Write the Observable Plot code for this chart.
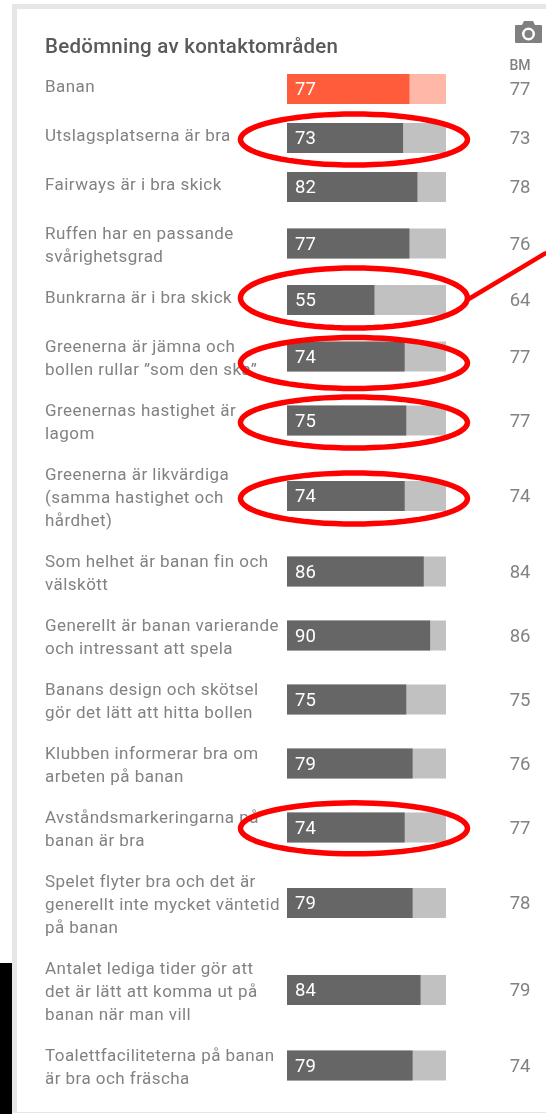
<!DOCTYPE html>
<html lang="sv">
<head>
<meta charset="utf-8">
<script src="https://cdn.jsdelivr.net/npm/d3@7"></script>
<script src="https://cdn.jsdelivr.net/npm/@observablehq/plot@0.6"></script>
<style>
  html, body { margin: 0; padding: 0; background: #fff; }
  body { width: 546px; height: 1114px; position: relative; overflow: hidden; }
  #frame { position: absolute; left: 12px; top: 4px; right: 0; bottom: 1px; border: solid #e6e6e6; border-width: 5px 0 1px 5px; }
  #corner { position: absolute; left: 0; top: 963px; width: 12px; bottom: 0; background: #000; }
  #camera { position: absolute; left: 515px; top: 21px; }
  #chart { position: absolute; left: 0; top: 0; }
  #chart svg text { filter: blur(0.3px); }
  .rowlabel text { letter-spacing: 0.45px; }
  .charttitle text { letter-spacing: 0.26px; }
</style>
</head>
<body>
<div id="frame"></div>
<div id="corner"></div>
<svg id="camera" width="27" height="22" viewBox="0 0 27 22">
  <path fill="#808080" fill-rule="evenodd" d="M1 4h6l2-4h9l2 4h6a1 1 0 0 1 1 1v16a1 1 0 0 1-1 1H1a1 1 0 0 1-1-1V5a1 1 0 0 1 1-1zM13.5 6.5a6.5 6.5 0 1 0 0 13a6.5 6.5 0 0 0 0-13zM13.5 9a4 4 0 1 1 0 8a4 4 0 0 1 0-8z"/>
</svg>
<div id="chart"></div>
<script>
const title = "Bedömning av kontaktområden";
const bmHeader = "BM";
const labels = [
  "Banan",
  "Utslagsplatserna är bra",
  "Fairways är i bra skick",
  "Ruffen har en passande\nsvårighetsgrad",
  "Bunkrarna är i bra skick",
  "Greenerna är jämna och\nbollen rullar ”som den ska”",
  "Greenernas hastighet är\nlagom",
  "Greenerna är likvärdiga\n(samma hastighet och\nhårdhet)",
  "Som helhet är banan fin och\nvälskött",
  "Generellt är banan varierande\noch intressant att spela",
  "Banans design och skötsel\ngör det lätt att hitta bollen",
  "Klubben informerar bra om\narbeten på banan",
  "Avståndsmarkeringarna på\nbanan är bra",
  "Spelet flyter bra och det är\ngenerellt inte mycket väntetid\npå banan",
  "Antalet lediga tider gör att\ndet är lätt att komma ut på\nbanan när man vill",
  "Toalettfaciliteterna på banan\när bra och fräscha"
];
const scores = [77, 73, 82, 77, 55, 74, 75, 74, 86, 90, 75, 79, 74, 79, 84, 79];
const benchmarks = [77, 73, 78, 76, 64, 77, 77, 74, 84, 86, 75, 76, 77, 78, 79, 74];
const circled = [1, 4, 5, 6, 7, 12];

// Row layout: each row is as tall as its label needs, like the table in the original.
const rowHeight = {1: 49, 2: 64, 3: 87};
const firstRowTop = 64.5;
const barHalf = 15;
let cursor = firstRowTop;
const rows = labels.map((label, i) => {
  const lines = label.split("\n").length;
  const h = rowHeight[lines];
  const cy = cursor + h / 2;
  cursor += h;
  return {label, lines, cy, score: scores[i], bm: benchmarks[i], head: i === 0};
});

// Hand-drawn annotation rings around the flagged rows.
const ringOffset = {1: 1, 4: -2.5, 5: 6, 6: 1.5, 7: 2, 12: 0.3};
const rings = circled.flatMap(i =>
  d3.range(0, 73).map(k => {
    const a = k / 72 * 2 * Math.PI;
    return {ring: i, x: 41.8 + 71.4 * Math.cos(a), y: rows[i].cy + ringOffset[i] + (i === 4 ? 30 : 25.5) * Math.sin(a)};
  })
);
const pointer = [{x: 114.5, y: 298}, {x: 162, y: 253}];

const gray = "#828282";
const plot = Plot.plot({
  width: 546,
  height: 1114,
  margin: 0,
  style: {background: "transparent", fontFamily: "Roboto, sans-serif"},
  x: {domain: [0, 100], range: [287, 446], axis: null},
  y: {domain: [0, 1114], range: [0, 1114], axis: null},
  marks: [
    Plot.rect(rows, {x1: 0, x2: 100, y1: d => d.cy - barHalf, y2: d => d.cy + barHalf,
      fill: d => d.head ? "#ffb7a8" : "#c1c1c1"}),
    Plot.rect(rows, {x1: 0, x2: "score", y1: d => d.cy - barHalf, y2: d => d.cy + barHalf,
      fill: d => d.head ? "#ff5c3b" : "#666666"}),
    Plot.text(rows, {x: 0, y: "cy", text: d => String(d.score), dx: 7.5, textAnchor: "start",
      fill: "#fff", fontSize: 18.5}),
    Plot.text(rows, {frameAnchor: "left", dx: 44.5, y: d => d.cy - (d.lines === 1 ? 4.5 : d.lines === 2 ? 0.5 : 0.8),
      text: "label", textAnchor: "start", fill: gray, fontSize: 17, lineHeight: 1.33,
      className: "rowlabel"}),
    Plot.text(rows, {frameAnchor: "right", dx: -16, y: d => d.cy, text: d => String(d.bm),
      textAnchor: "end", fill: gray, fontSize: 18.5}),
    Plot.text([bmHeader], {frameAnchor: "top-right", dx: -16, dy: 60, textAnchor: "end", lineAnchor: "top",
      fill: gray, fontSize: 14, fontWeight: 500}),
    Plot.text([title], {frameAnchor: "top-left", dx: 44.5, dy: 38, textAnchor: "start", lineAnchor: "top",
      fill: "#595959", fontSize: 20.5, fontWeight: 500, className: "charttitle"}),
    Plot.line(rings, {x: "x", y: "y", z: "ring", stroke: "#ff0000", strokeWidth: 5.5, curve: "linear"}),
    Plot.line(pointer, {x: "x", y: "y", stroke: "#ff0000", strokeWidth: 4.5})
  ]
});
document.getElementById("chart").appendChild(plot);
</script>
</body>
</html>
